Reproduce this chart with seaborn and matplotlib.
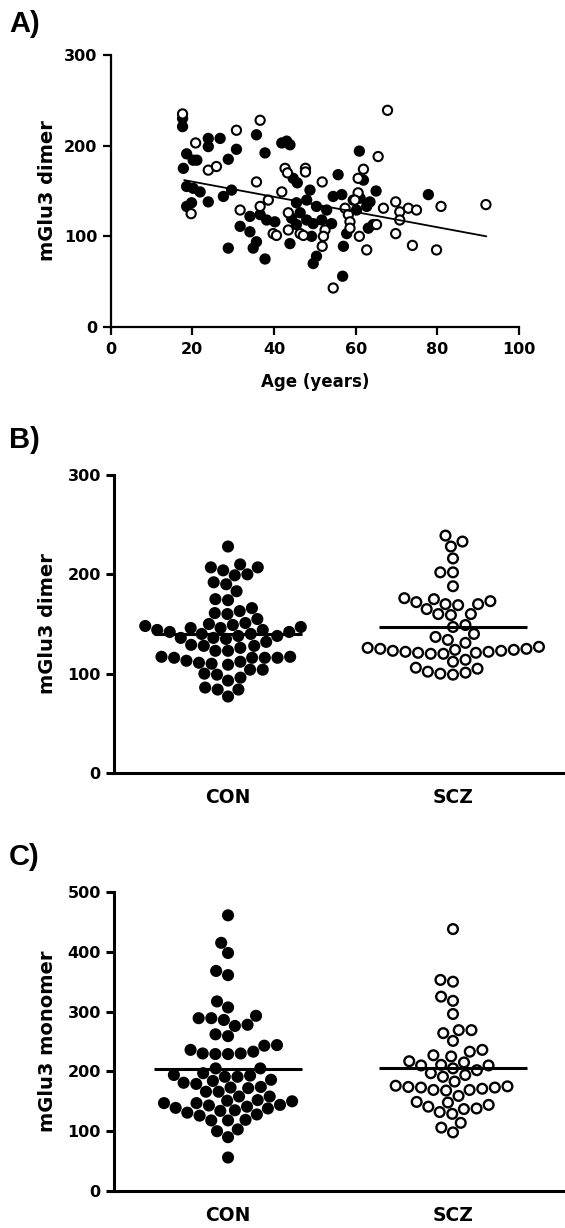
import numpy as np
import pandas as pd
import seaborn as sns
import matplotlib.pyplot as plt

# panel A: age vs mGlu3 dimer
con_age = [17.6, 17.6, 23.9, 26.8, 23.9, 30.8, 35.7, 28.8, 37.8, 18.6, 20.2, 17.8, 21.1,
           41.9, 43.1, 43.9, 60.9, 55.7, 61.9, 44.7, 45.7, 18.6, 20.2, 21.9, 27.6, 29.6,
           23.9, 65.0, 77.8, 54.5, 56.6, 59.4, 61.1, 63.5, 48.8, 48.0, 50.4, 52.9, 51.7,
           54.1, 49.6, 18.6, 19.8, 34.1, 36.6, 38.2, 40.2, 44.3, 45.5, 46.4, 45.5, 31.7,
           34.1, 28.8, 34.9, 35.7, 37.8, 43.9, 48.0, 49.2, 57.0, 50.4, 49.6, 56.8, 63.1,
           64.3, 57.8, 62.7, 60.2]
con_dimer_a = [230, 221, 208, 208, 199, 196, 212, 185, 192, 191, 184, 175, 184,
               203, 205, 201, 194, 168, 162, 164, 159, 155, 153, 149, 144, 151,
               138, 150, 146, 144, 146, 140, 142, 138, 151, 140, 133, 129, 118,
               114, 114, 133, 137, 122, 124, 118, 116, 120, 137, 126, 113, 111,
               105, 87, 87, 94, 75, 92, 118, 100, 89, 78, 70, 56, 109,
               113, 103, 133, 129]
scz_age = [17.6, 36.6, 67.8, 30.8, 20.8, 65.5, 23.9, 25.9, 42.7, 47.7, 47.7, 43.3, 61.9,
           35.7, 51.8, 60.6, 41.9, 60.6, 59.8, 38.6, 36.6, 31.7, 66.8, 69.8, 70.8, 72.9,
           74.9, 80.9, 91.9, 70.8, 69.8, 19.7, 43.5, 57.4, 58.2, 58.6, 58.6, 39.8, 40.6,
           43.5, 46.4, 47.2, 52.5, 52.1, 51.8, 60.9, 62.7, 73.9, 79.8, 54.5, 65.1]
scz_dimer_a = [235, 228, 239, 217, 203, 188, 173, 177, 175, 175, 171, 170, 174,
               160, 160, 164, 149, 148, 140, 140, 133, 129, 131, 138, 127, 131,
               129, 133, 135, 118, 103, 125, 126, 131, 124, 116, 109, 103, 101,
               107, 103, 101, 107, 100, 89, 100, 85, 90, 85, 43, 113]
fit_age = [18, 92]
fit_dimer = [162, 100]

# panel B: mGlu3 dimer by group
con_dimer = [228, 207, 204, 199, 200, 207, 210, 190, 192, 183, 175, 174,
             163, 160, 151, 155, 161, 166,
             150, 149, 147, 146, 144, 142, 140, 138, 136, 135, 136, 138, 140, 142, 144, 146, 148,
             132, 128, 126, 123, 123, 128, 129, 117, 116, 116, 116, 116, 117,
             113, 111, 109, 104, 99, 96, 100, 104, 110, 112, 93, 84, 84, 86, 77]
scz_dimer = [239, 228, 233, 216, 202, 202, 188, 176, 173, 170, 169, 165, 170, 172, 175,
             160, 159, 160, 147, 149, 140, 137, 134, 131,
             126, 125, 124, 123, 122, 121, 120, 120, 121, 122, 123, 124, 125, 127,
             112, 105, 101, 99, 100, 102, 106, 114]

# panel C: mGlu3 monomer by group
con_mono = [461, 415, 398, 361, 368, 317, 307, 286, 289, 276, 289, 293, 278, 259, 262,
            244, 236, 230, 229, 229, 230, 233, 243, 205, 205, 197, 193, 191, 191, 194,
            184, 186, 179, 181, 173, 174, 166, 172, 158, 158, 166,
            152, 150, 147, 144, 141, 138, 134, 128, 126, 131, 135, 139, 143, 147, 151,
            119, 118, 118, 100, 103, 90, 56]
scz_mono = [438, 353, 350, 318, 325, 296, 269, 269, 264, 251, 233, 236,
            225, 227, 215, 217, 210, 205, 202, 210, 211, 197, 191, 194, 183,
            176, 174, 173, 169, 168, 169, 171, 173, 175,
            149, 144, 138, 132, 129, 137, 141, 148, 159, 114, 98, 106]

groups = ['CON', 'SCZ']
pal = {'CON': 'black', 'SCZ': 'white'}

sns.set_style('ticks')
plt.rcParams['font.family'] = ['DejaVu Sans']
plt.rcParams['font.weight'] = 'bold'
plt.rcParams['axes.labelweight'] = 'bold'
for k in ['text.color', 'axes.labelcolor', 'xtick.color', 'ytick.color', 'axes.edgecolor']:
    plt.rcParams[k] = 'black'

fig = plt.figure(figsize=(5.65, 12.28), dpi=100)
W, H = 565, 1228


def box(left, top, right, bottom):
    return [left / W, 1 - bottom / H, (right - left) / W, (bottom - top) / H]


def style(ax, lw):
    sns.despine(ax=ax)
    for s in ['left', 'bottom']:
        ax.spines[s].set_linewidth(lw)
        ax.spines[s].set_color('black')
    ax.tick_params(axis='y', length=5.5, width=lw, pad=4, labelsize=11.5, colors='black')


# ---- A ----
axA = fig.add_axes(box(110.7, 55, 519, 327))
dfa = pd.DataFrame({'age': con_age + scz_age,
                    'dimer': con_dimer_a + scz_dimer_a,
                    'group': ['CON'] * len(con_age) + ['SCZ'] * len(scz_age)})
sns.scatterplot(data=dfa, x='age', y='dimer', hue='group', palette=pal, edgecolor='black',
                linewidth=1.5, s=44, legend=False, ax=axA, zorder=3)
sns.lineplot(x=fit_age, y=fit_dimer, color='black', linewidth=1.3, ax=axA, zorder=4)
axA.set_xlim(0, 100)
axA.set_ylim(0, 300)
axA.set_xticks(range(0, 101, 20))
axA.set_yticks([0, 100, 200, 300])
style(axA, 1.6)
axA.tick_params(axis='x', length=5.5, width=1.6, pad=5, labelsize=11.5, colors='black')
axA.set_xlabel('Age (years)', fontsize=12, fontweight='bold')
axA.set_ylabel('mGlu3 dimer', fontsize=14, fontweight='bold')
axA.xaxis.set_label_coords(0.5, -0.169)
axA.yaxis.set_label_coords(-0.1315, 0.5)


def group_panel(ax, con, scz, label, ymax, step):
    df = pd.DataFrame({'group': ['CON'] * len(con) + ['SCZ'] * len(scz),
                       'value': con + scz})
    sns.swarmplot(data=df, x='group', y='value', hue='group', order=groups, palette=pal,
                  edgecolor='black', linewidth=1.7, size=7, legend=False, ax=ax,
                  zorder=3)
    means = df.groupby('group')['value'].mean()
    for i, g in enumerate(groups):
        ax.hlines(means[g], i - 0.33, i + 0.33, color='black', linewidth=2.2, zorder=5)
    ax.set_xlim(-0.507, 1.498)
    ax.set_ylim(0, ymax)
    ax.set_yticks(np.arange(0, ymax + 1, step))
    style(ax, 2.2)
    ax.tick_params(axis='x', length=0, pad=11, labelsize=13.5, colors='black')
    ax.set_xlabel('')
    ax.set_ylabel(label, fontsize=14, fontweight='bold')
    ax.yaxis.set_label_coords(-0.1264, 0.5)


axB = fig.add_axes(box(114, 475, 565, 773))
group_panel(axB, con_dimer, scz_dimer, 'mGlu3 dimer', 300, 100)

axC = fig.add_axes(box(114, 892, 565, 1191))
group_panel(axC, con_mono, scz_mono, 'mGlu3 monomer', 500, 100)

for txt, base in [('A)', 32), ('B)', 448), ('C)', 865)]:
    fig.text(9 / W, 1 - base / H, txt, fontsize=21, fontweight='bold',
             family='Liberation Sans', va='baseline', ha='left')

fig.savefig('out.png', dpi=100)
